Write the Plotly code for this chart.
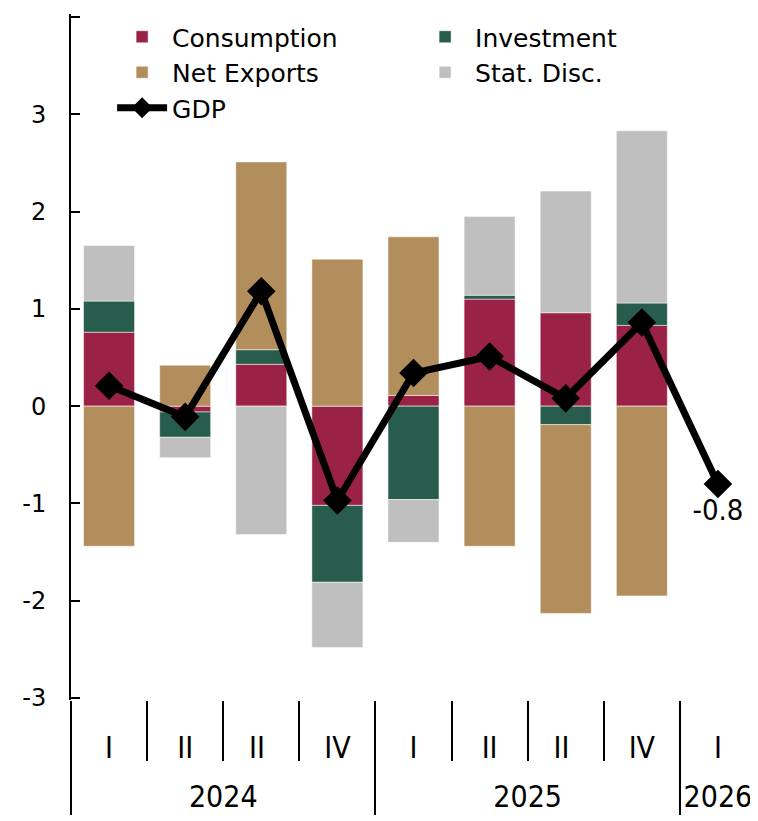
import plotly.graph_objects as go

# categories (third quarter label is "II" in the source; trailing space keeps it a separate category)
years = ['2024', '2024', '2024', '2024', '2025', '2025', '2025', '2025', '2026']
quarters = ['I', 'II', 'II ', 'IV', 'I', 'II', 'II ', 'IV', 'I']

# contributions (pp)
consumption = [0.76, -0.06, 0.43, -1.02, 0.11, 1.10, 0.96, 0.83, None]
investment = [0.32, -0.26, 0.15, -0.79, -0.96, 0.04, -0.19, 0.23, None]
net_exports = [-1.44, 0.42, 1.93, 1.51, 1.63, -1.44, -1.94, -1.95, None]
stat_disc = [0.57, -0.21, -1.32, -0.67, -0.44, 0.81, 1.25, 1.77, None]
gdp = [0.21, -0.11, 1.18, -0.97, 0.34, 0.51, 0.08, 0.86, -0.80]

y_ticks = [-3, -2, -1, 0, 1, 2, 3, 4]
y_ticktext = ['-3', '-2', '-1', '0', '1', '2', '3', '4']

gdp_labels = [''] * (len(gdp) - 1) + ['%.1f' % gdp[-1]]

FONT = 'DejaVu Sans'
NARROW = 'Liberation Sans Narrow, DejaVu Sans Condensed, sans-serif'
# blank first line pushes the labels down so the ticks / dividers get taller
x = [['<br>' + yr for yr in years], ['<br>' + q for q in quarters]]
ymin, ymax = -3.02, 4.03

fig = go.Figure()
for name, vals, col in [('Consumption', consumption, '#9B2247'),
                        ('Investment', investment, '#285C4D'),
                        ('Net Exports', net_exports, '#B38E5D'),
                        ('Stat. Disc.', stat_disc, '#BFBFBF')]:
    fig.add_trace(go.Bar(x=x, y=vals, name=name, marker_color=col,
                         marker_line=dict(color='white', width=0.5)))

fig.add_trace(go.Scatter(x=x, y=gdp, name='GDP', mode='lines+markers+text',
                         line=dict(color='black', width=7),
                         marker=dict(symbol='diamond', size=22, color='black'),
                         text=gdp_labels, textposition='bottom center',
                         textfont=dict(family=NARROW, size=29, color='black')))

zero_pos = (0 - ymin) / (ymax - ymin)
bounds = [0.5, 1.5, 2.5, 3.5, 4.5, 5.5, 6.5, 7.5, 8.5]
# page body adds an 8px offset, so the figure is 8px smaller than the window
fig.update_layout(
    width=750, height=813,
    margin=dict(l=63, r=2, t=6, b=121),
    plot_bgcolor='white', paper_bgcolor='white',
    font=dict(family=FONT, size=25, color='black'),
    barmode='relative', bargap=0.33,
    showlegend=True,
    legend=dict(orientation='h', x=0.06, y=1.0, xanchor='left', yanchor='top',
                entrywidth=238, entrywidthmode='pixels', itemwidth=50,
                font=dict(size=25), bgcolor='rgba(0,0,0,0)', tracegroupgap=0),
    xaxis=dict(type='multicategory', range=[-0.5, 8.5],
               showline=False, showgrid=False, automargin=False,
               ticks='outside', ticklen=60, tickwidth=2, tickcolor='black',
               showdividers=True, dividercolor='black', dividerwidth=2,
               tickfont=dict(family=NARROW, size=30), ticklabelstandoff=-12),
    yaxis=dict(range=[ymin, ymax], tickvals=y_ticks, ticktext=y_ticktext,
               showgrid=False, zeroline=False, automargin=False,
               showline=True, linecolor='black', linewidth=2,
               ticks='inside', ticklen=9, tickwidth=2, tickcolor='black',
               tickfont=dict(size=24), ticklabelstandoff=18),
    xaxis2=dict(overlaying='x', anchor='free', position=zero_pos, range=[-0.5, 8.5],
                tickvals=bounds, showticklabels=False, showgrid=False, zeroline=False,
                showline=True, linecolor='black', linewidth=2, automargin=False,
                ticks='outside', ticklen=8, tickwidth=2, tickcolor='black'),
    xaxis3=dict(overlaying='x', anchor='free', position=zero_pos, range=[-0.5, 8.5],
                tickvals=bounds, showticklabels=False, showgrid=False, zeroline=False,
                showline=False, automargin=False,
                ticks='inside', ticklen=8, tickwidth=2, tickcolor='black'),
)

fig.write_html('out.html')
